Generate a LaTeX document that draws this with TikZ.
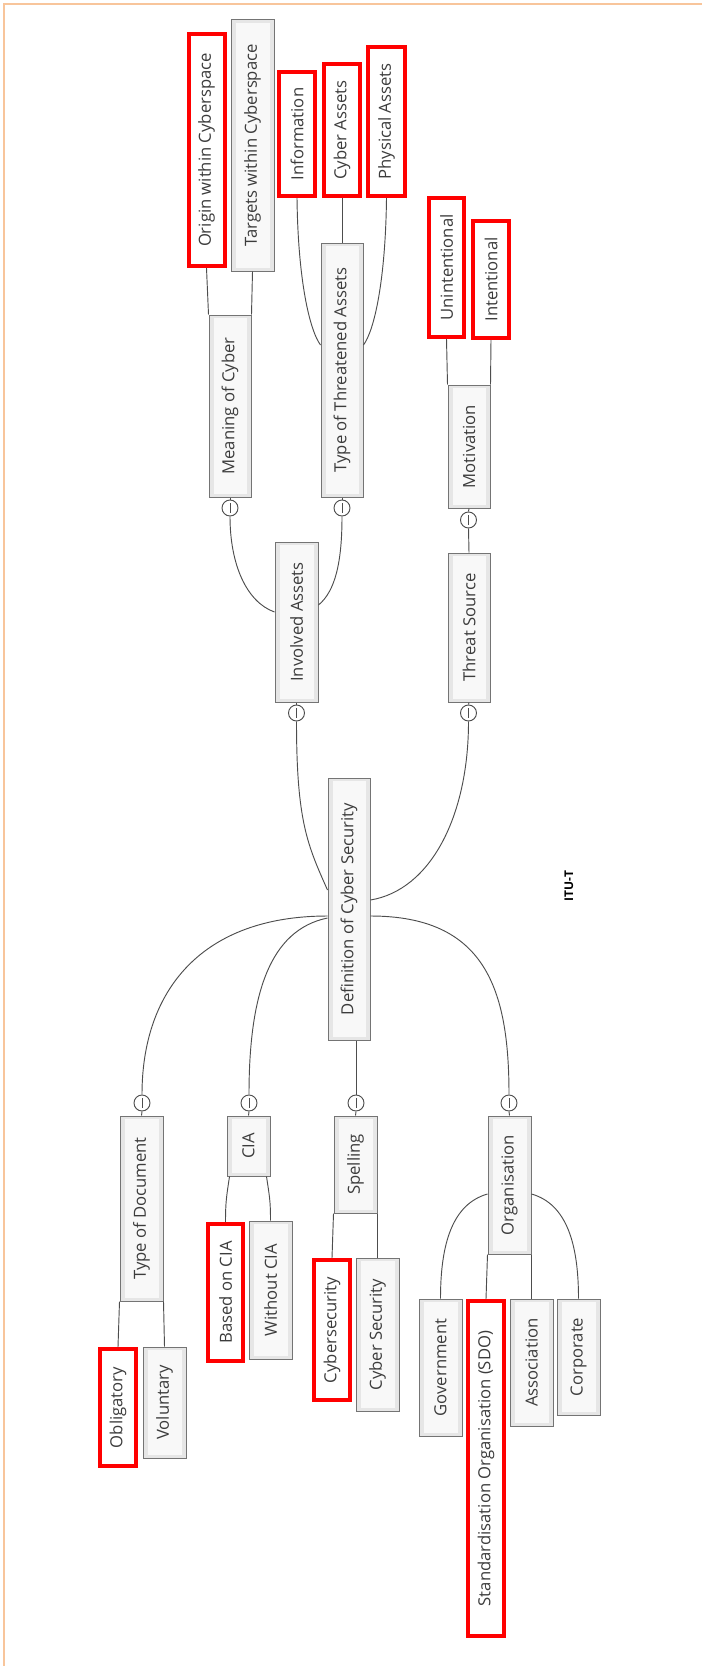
\documentclass[tikz,border=0pt]{standalone}
\usepackage{fontspec}
\setmainfont{Open Sans}
\usetikzlibrary{calc}
\definecolor{frameor}{HTML}{F8C59B}
\definecolor{bxline}{HTML}{747474}
\definecolor{bxfill}{HTML}{E6E6E6}
\definecolor{bxin}{HTML}{F8F8F8}
\definecolor{txtc}{HTML}{3C3C3C}
\definecolor{conc}{HTML}{4D4D4D}
\definecolor{hred}{HTML}{FF0000}
\begin{document}
\begin{tikzpicture}[x=0.75pt,y=-0.75pt,
 gbox/.style 2 args={draw=bxline, line width=0.75pt, fill=bxfill, inner sep=0pt,
   minimum width=#1*0.75pt, minimum height=#2*0.75pt, text=txtc,
   font=\fontsize{12.5}{15}\selectfont,
   path picture={\fill[bxin] ([shift={(3.5pt,-2.5pt)}]path picture bounding box.north west) rectangle ([shift={(-3pt,2.5pt)}]path picture bounding box.south east);}},
 rbox/.style 2 args={draw=hred, line width=3pt, fill=white, inner sep=0pt,
   minimum width={(#1-4)*0.75pt}, minimum height={(#2-4)*0.75pt}, text=txtc,
   font=\fontsize{12.5}{15}\selectfont},
 coll/.style={circle, draw=conc, fill=white, line width=0.7pt, minimum size=12pt, inner sep=0pt,
   path picture={\draw[conc, line width=0.6pt] ([yshift=3.5pt]path picture bounding box.center) -- ([yshift=-3.5pt]path picture bounding box.center);}},
 cline/.style={draw=conc, line width=0.7pt}
]
\useasboundingbox (0,0) rectangle (702,1666);
\draw[frameor, line width=1.2pt] (4,1666) -- (4,4) -- (702,4);

% top branch
\node[rbox={40}{236}] (origin) at (206.5,150) {\rotatebox{90}{Origin within Cyberspace}};
\node[gbox={43}{251}] (targets) at (252.5,145.5) {\rotatebox{90}{Targets within Cyberspace}};
\node[rbox={40}{128}] (info) at (297,134) {\rotatebox{90}{Information}};
\node[rbox={40}{136}] (cyass) at (342,130) {\rotatebox{90}{Cyber Assets}};
\node[rbox={41}{153}] (phys) at (386.5,121.5) {\rotatebox{90}{Physical Assets}};
\node[rbox={39}{143}] (unint) at (446.5,267.5) {\rotatebox{90}{Unintentional}};
\node[rbox={40}{121}] (intent) at (491,279.5) {\rotatebox{90}{Intentional}};
\node[gbox={42}{182}] (meaning) at (230,406) {\rotatebox{90}{Meaning of Cyber}};
\node[gbox={42}{254}] (tta) at (342,370) {\rotatebox{90}{Type of Threatened Assets}};
\node[gbox={43}{160}] (involved) at (296.5,622) {\rotatebox{90}{Involved Assets}};
\node[gbox={42}{123}] (motiv) at (469,446.5) {\rotatebox{90}{Motivation}};
\node[gbox={42}{149}] (threat) at (469,627.5) {\rotatebox{90}{Threat Source}};
\node[gbox={42}{262}] (defn) at (349,909) {\rotatebox{90}{Definition of Cyber Security}};

% bottom branch
\node[gbox={43}{185}] (typedoc) at (141.5,1208.5) {\rotatebox{90}{Type of Document}};
\node[gbox={43}{60}] (cia) at (248.5,1146) {\rotatebox{90}{CIA}};
\node[gbox={43}{97}] (spell) at (355.5,1164.5) {\rotatebox{90}{Spelling}};
\node[gbox={43}{138}] (org) at (509.5,1185) {\rotatebox{90}{Organisation}};
\node[rbox={40}{121}] (oblig) at (118,1407.5) {\rotatebox{90}{Obligatory}};
\node[gbox={43}{111}] (volun) at (164.5,1402.5) {\rotatebox{90}{Voluntary}};
\node[rbox={39}{141}] (based) at (225.5,1292.5) {\rotatebox{90}{Based on CIA}};
\node[gbox={43}{138}] (without) at (270.5,1290) {\rotatebox{90}{Without CIA}};
\node[rbox={40}{144}] (cysec1) at (332,1330) {\rotatebox{90}{Cybersecurity}};
\node[gbox={43}{153}] (cysec2) at (377.5,1334.5) {\rotatebox{90}{Cyber Security}};
\node[gbox={43}{137}] (gov) at (440.5,1367.5) {\rotatebox{90}{Government}};
\node[rbox={40}{339}] (sdo) at (486,1468.5) {\rotatebox{90}{Standardisation Organisation (SDO)}};
\node[gbox={43}{127}] (assoc) at (531.5,1362.5) {\rotatebox{90}{Association}};
\node[gbox={43}{116}] (corp) at (578.5,1357) {\rotatebox{90}{Corporate}};

% collapse markers
\node[coll] (cmean) at (230,508) {};
\node[coll] (ctta) at (342,508) {};
\node[coll] (cinv) at (296.5,713) {};
\node[coll] (cmot) at (468.5,520) {};
\node[coll] (cthr) at (468.5,713) {};
\node[coll] (ctd) at (142,1103) {};
\node[coll] (ccia) at (249,1103) {};
\node[coll] (cspe) at (356,1103) {};
\node[coll] (corg) at (509,1103) {};

\node[font=\bfseries\fontsize{9}{10}\selectfont, text=black] (itut) at (569,886) {\rotatebox{90}{ITU-T}};

% connectors top
\draw[cline] (origin.south) -- (meaning.north west);
\draw[cline] (targets.south) -- (meaning.north east);
\draw[cline] (info.south) .. controls +(1,82) and +(-11,-15) .. ($(tta.west)+(0,-25)$);
\draw[cline] (cyass.south) -- (tta.north);
\draw[cline] (phys.south) .. controls +(-1,82) and +(11,-15) .. ($(tta.east)+(0,-25)$);
\draw[cline] (meaning.south) -- (cmean.north);
\draw[cline] (tta.south) -- (ctta.north);
\draw[cline] (unint.south) -- (motiv.north west);
\draw[cline] (intent.south) -- (motiv.north east);
\draw[cline] (motiv.south) -- (cmot.north);
\draw[cline] (cmot.south) -- (threat.north);
\draw[cline] ($(involved.west)+(0,-10)$) .. controls +(-28,-10) and +(0,48) .. (cmean.south);
\draw[cline] ($(involved.east)+(0,-17)$) .. controls +(17,-14) and +(0,45) .. (ctta.south);
\draw[cline] (involved.south) -- (cinv.north);
\draw[cline] (threat.south) -- (cthr.north);
\draw[cline] ($(defn.west)+(0,-19)$) .. controls +(-20,-45) and +(0,100) .. (cinv.south);
\draw[cline] ($(defn.east)+(0,-9)$) .. controls +(60,-10) and +(0,95) .. (cthr.south);

% connectors bottom
\draw[cline] ($(defn.west)+(0,7)$) .. controls +(-125,0) and +(0,-105) .. (ctd.north);
\draw[cline] ($(defn.west)+(0,9)$) .. controls +(-58,12) and +(0,-100) .. (ccia.north);
\draw[cline] (cspe.north |- defn.south) -- (cspe.north);
\draw[cline] ($(defn.east)+(0,7)$) .. controls +(115,0) and +(0,-105) .. (corg.north);
\draw[cline] (ctd.south) -- (typedoc.north);
\draw[cline] (ccia.south) -- (cia.north);
\draw[cline] (cspe.south) -- (spell.north);
\draw[cline] (corg.south) -- (org.north);
\draw[cline] (typedoc.south west) -- (oblig.north);
\draw[cline] (typedoc.south east) -- (volun.north);
\draw[cline] ($(cia.south west)+(3,0)$) .. controls +(-3,20) and +(0,-20) .. (based.north);
\draw[cline] ($(cia.south east)+(-4,0)$) .. controls +(3,20) and +(0,-20) .. (without.north);
\draw[cline] (spell.south west) -- (cysec1.north);
\draw[cline] (spell.south east) -- (cysec2.north);
\draw[cline] ($(org.west)+(0,9)$) .. controls +(-35,10) and +(0,-55) .. (gov.north);
\draw[cline] (org.south west) -- (sdo.north);
\draw[cline] (org.south east) -- (assoc.north);
\draw[cline] ($(org.east)+(0,9)$) .. controls +(35,10) and +(0,-55) .. (corp.north);
\end{tikzpicture}
\end{document}
